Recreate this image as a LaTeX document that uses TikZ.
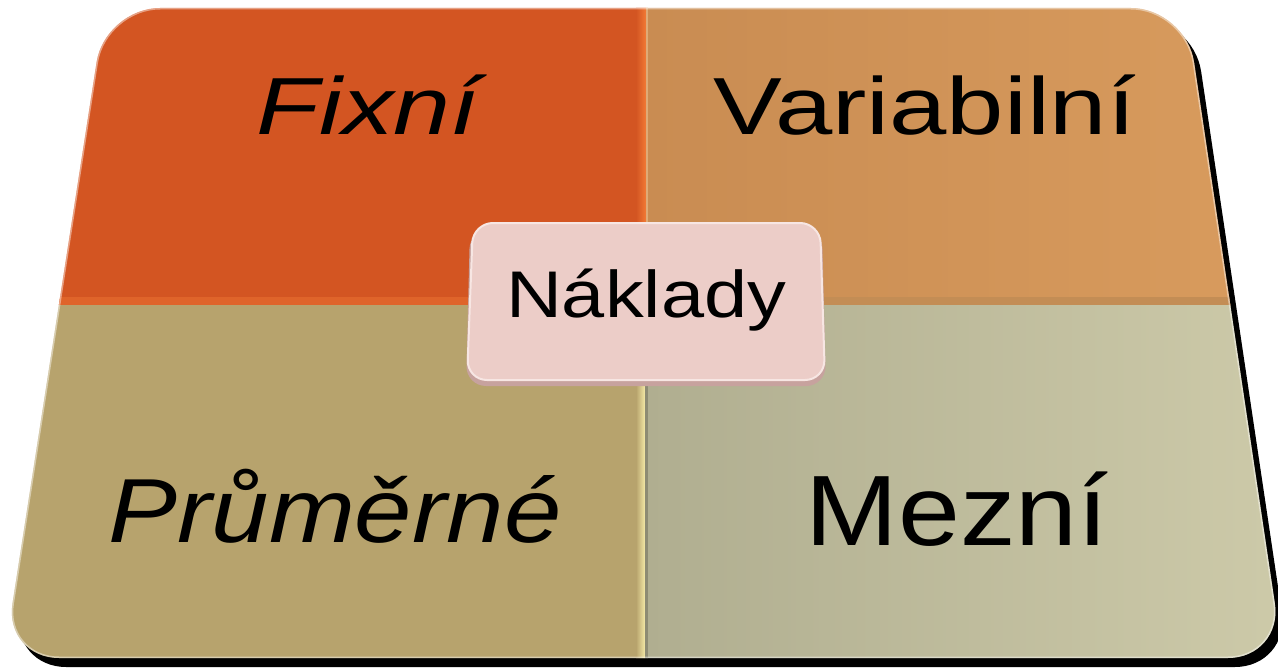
\documentclass[tikz,border=0pt]{standalone}
\usepackage{fontspec}
\setmainfont{Liberation Sans}
\usepackage{graphicx}
\definecolor{cFix}{HTML}{D35522}
\definecolor{cFixHi}{HTML}{F27A35}
\definecolor{cVarL}{HTML}{C98C52}
\definecolor{cVarR}{HTML}{D99C5E}
\definecolor{cPru}{HTML}{B7A36D}
\definecolor{cPruHi}{HTML}{F4E9A6}
\definecolor{cMezL}{HTML}{B0AE90}
\definecolor{cMezR}{HTML}{CDCAA9}
\definecolor{cNak}{HTML}{ECCDC8}
\definecolor{cNakDk}{HTML}{C7A29E}
\definecolor{cNakHi}{HTML}{F7E6E3}
\tikzset{
  outer/.style={rounded corners=55pt},
  label/.style={inner sep=0pt, text=black, anchor=base},
  nakbox/.style={rounded corners=20pt},
}
\newcommand{\outerpath}{(105,8) -- (1186,8) -- (1283,658) -- (4,658) -- cycle}
\begin{document}
\begin{tikzpicture}[x=1pt,y=-1pt]
\useasboundingbox (0,0) rectangle (1278,669);
% shadow
\fill[black, outer, shift={(7,9)}] \outerpath;
% quadrants
\begin{scope}
  \clip[outer] \outerpath;
  \fill[cFix] (0,0) rectangle (646,305);
  \shade[left color=cVarL, right color=cVarR] (646,0) rectangle (1290,305);
  \fill[cPru] (0,305) rectangle (646,669);
  \shade[left color=cMezL, right color=cMezR] (646,305) rectangle (1290,669);
  % bevels on inner edges
  \shade[left color=cFix, right color=cFixHi] (636,0) rectangle (646,305);
  \fill[cFixHi!40!cFix] (0,297) rectangle (636,305);
  \fill[cVarR!85!white] (646,0) rectangle (648,305);
  \fill[cVarR!90!black] (648,297) rectangle (1290,305);
  \shade[left color=cPru, right color=cPruHi] (636,305) rectangle (645,669);
  \fill[cMezL!80!black] (645,305) rectangle (648,669);
  % rim highlight
  \draw[white, opacity=0.45, line width=3pt, outer] \outerpath;
\end{scope}
% center box
\fill[cNakDk, nakbox] (470,229) -- (822,229) -- (826,386) -- (466,386) -- cycle;
\path[fill=cNak, draw=cNakHi, line width=2pt, nakbox] (473,223) -- (820,223) -- (825,380) -- (467,380) -- cycle;
\node[inner sep=0pt, minimum width=352pt, minimum height=157pt] (nakbox) at (646,302) {};
% labels
\node[label] (fix) at (368,135) {\resizebox{222pt}{\height}{\fontsize{81}{81}\selectfont\itshape Fixní}};
\node[label] (var) at (925,135) {\resizebox{422pt}{\height}{\fontsize{81}{81}\selectfont Variabilní}};
\node[label] (pru) at (335,542) {\resizebox{453pt}{\height}{\fontsize{91}{91}\selectfont\itshape Průměrné}};
\node[label] (mez) at (957,545) {\resizebox{303pt}{\height}{\fontsize{100}{100}\selectfont Mezní}};
\node[label] (nak) at (nakbox.center |- 0,317) {\resizebox{280pt}{\height}{\fontsize{66}{66}\selectfont Náklady}};
\end{tikzpicture}
\end{document}
